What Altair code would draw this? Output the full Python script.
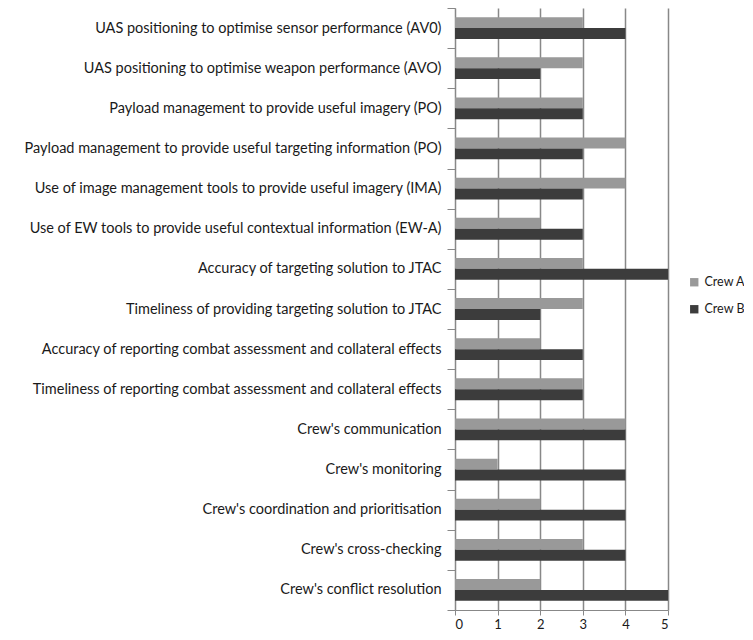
import altair as alt
import pandas as pd

categories = [
    "UAS positioning to optimise sensor performance (AV0)",
    "UAS positioning to optimise weapon performance (AVO)",
    "Payload management to provide useful imagery (PO)",
    "Payload management to provide useful targeting information (PO)",
    "Use of image management tools to provide useful imagery (IMA)",
    "Use of EW tools to provide useful contextual information (EW-A)",
    "Accuracy of targeting solution to JTAC",
    "Timeliness of providing targeting solution to JTAC",
    "Accuracy of reporting combat assessment and collateral effects",
    "Timeliness of reporting combat assessment and collateral effects",
    "Crew's communication",
    "Crew's monitoring",
    "Crew's coordination and prioritisation",
    "Crew's cross-checking",
    "Crew's conflict resolution",
]
crew_a = [3, 3, 3, 4, 4, 2, 3, 3, 2, 3, 4, 1, 2, 3, 2]
crew_b = [4, 2, 3, 3, 3, 3, 5, 2, 3, 3, 4, 4, 4, 4, 5]
series = ["Crew A", "Crew B"]
colors = ["#999999", "#3c3c3c"]

rows = []
for c, a, b in zip(categories, crew_a, crew_b):
    rows.append({"cat": c, "crew": "Crew A", "v": a})
    rows.append({"cat": c, "crew": "Crew B", "v": b})
df = pd.DataFrame(rows)

chart = alt.Chart(df).mark_bar().encode(
    y=alt.Y("cat:N", sort=categories, title=None,
            scale=alt.Scale(paddingInner=0, paddingOuter=0),
            axis=alt.Axis(tickBand="extent", tickSize=8, tickColor="#888888",
                          domainColor="#888888", labelFontSize=14.5, labelColor="#1a1a1a",
                          labelFont="Lato", labelPadding=6, labelLimit=500)),
    yOffset=alt.YOffset("crew:N", sort=series,
                        scale=alt.Scale(paddingOuter=0.84, paddingInner=0)),
    x=alt.X("v:Q", title=None, scale=alt.Scale(domain=[0, 5], nice=False),
            axis=alt.Axis(values=[0, 1, 2, 3, 4, 5], format="d", grid=True,
                          gridColor="#888888", gridWidth=1.5, tickColor="#888888",
                          domainColor="#888888", tickSize=5, labelFontSize=13,
                          labelColor="#1a1a1a", labelFont="Lato", labelPadding=3)),
    color=alt.Color("crew:N", sort=series,
                    scale=alt.Scale(domain=series, range=colors),
                    legend=alt.Legend(title=None, orient="none", legendX=233, legendY=268,
                                      symbolType="square", symbolSize=70,
                                      symbolStrokeWidth=0, labelFontSize=12.5,
                                      labelOffset=4, labelLimit=60,
                                      labelFont="Lato", labelColor="#1a1a1a",
                                      rowPadding=14)),
).properties(
    width=213, height=602,
    autosize=alt.AutoSizeParams(type="none"),
    padding={"left": 447, "top": 0, "right": 76, "bottom": 22},
).configure_view(stroke=None).configure_axis(domainWidth=1)

chart.save("out.html", embed_options={"renderer": "svg", "actions": False})
